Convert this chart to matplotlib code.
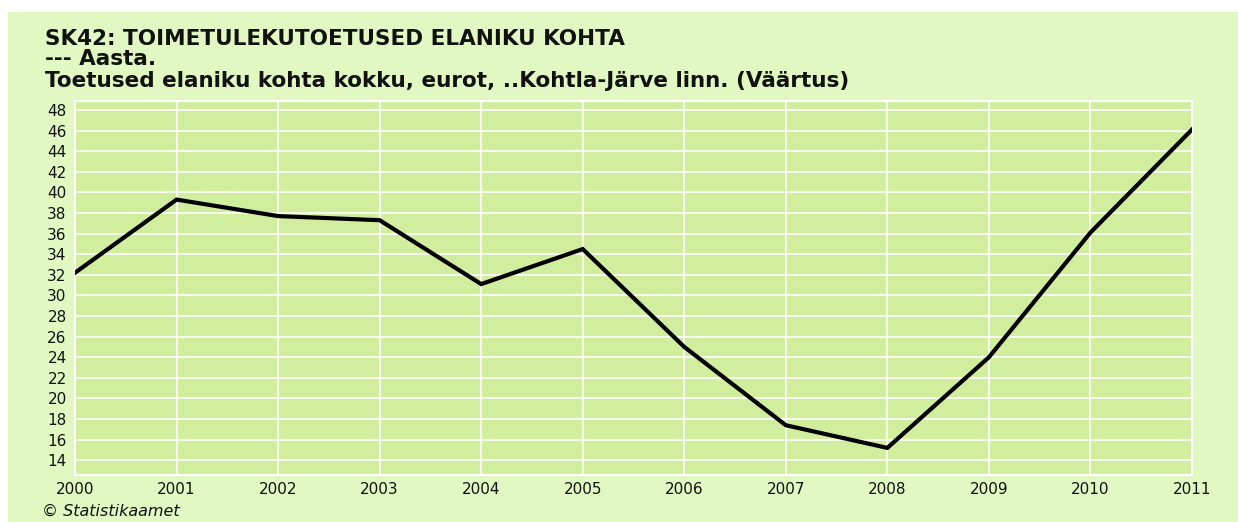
import matplotlib
matplotlib.use("Agg")
import matplotlib.pyplot as plt
from matplotlib.patches import Rectangle

# --- data ---
years = [2000, 2001, 2002, 2003, 2004, 2005, 2006, 2007, 2008, 2009, 2010, 2011]
values = [32.2, 39.3, 37.7, 37.3, 31.1, 34.5, 25.0, 17.4, 15.2, 24.0, 36.1, 46.1]
y_ticks = list(range(14, 49, 2))

title_lines = [
    "SK42: TOIMETULEKUTOETUSED ELANIKU KOHTA",
    "--- Aasta.",
    "Toetused elaniku kohta kokku, eurot, ..Kohtla-Järve linn. (Väärtus)",
]
source_text = "© Statistikaamet"

W, H = 1238, 522
outer_bg = "#e1f8c3"
plot_bg = "#d1ee9f"

plt.rcParams['font.family'] = ['DejaVu Sans']

fig = plt.figure(figsize=(W / 100, H / 100), dpi=100)
fig.patch.set_facecolor("white")

# light green panel behind everything (white strip left and top)
fig.patches.append(Rectangle((8 / W, 0), 1 - 8 / W, 1 - 12 / H,
                             transform=fig.transFigure, facecolor=outer_bg,
                             edgecolor="none", zorder=-5))

left, right, top, bottom = 75, 1192, 101, 475
ax = fig.add_axes([left / W, 1 - bottom / H, (right - left) / W, (bottom - top) / H])
ax.set_zorder(2)
ax.set_facecolor(plot_bg)

ax.plot(years, values, color="black", linewidth=3, solid_joinstyle="miter", zorder=3)

ax.set_xlim(2000, 2011)
ax.set_ylim(12.57, 48.87)
ax.set_xticks(years)
ax.set_yticks(y_ticks)
ax.grid(True, color="white", linewidth=1.2)
ax.set_axisbelow(True)
for s in ax.spines.values():
    s.set_color("white")
    s.set_linewidth(1.5)
ax.tick_params(axis="both", length=0, labelsize=11, colors="#111111")
ax.tick_params(axis="y", pad=6)
ax.tick_params(axis="x", pad=5)

# title block
title_y = [39, 59, 81]
for txt, yy in zip(title_lines, title_y):
    fig.text(45 / W, 1 - yy / H, txt, fontsize=15.5, fontweight="bold",
             ha="left", va="center", color="#111111")

fig.text(42 / W, 1 - 511 / H, source_text, fontsize=11.5, style="italic",
         ha="left", va="center", color="#111111")

fig.savefig("out.png", dpi=100, facecolor=fig.get_facecolor())
